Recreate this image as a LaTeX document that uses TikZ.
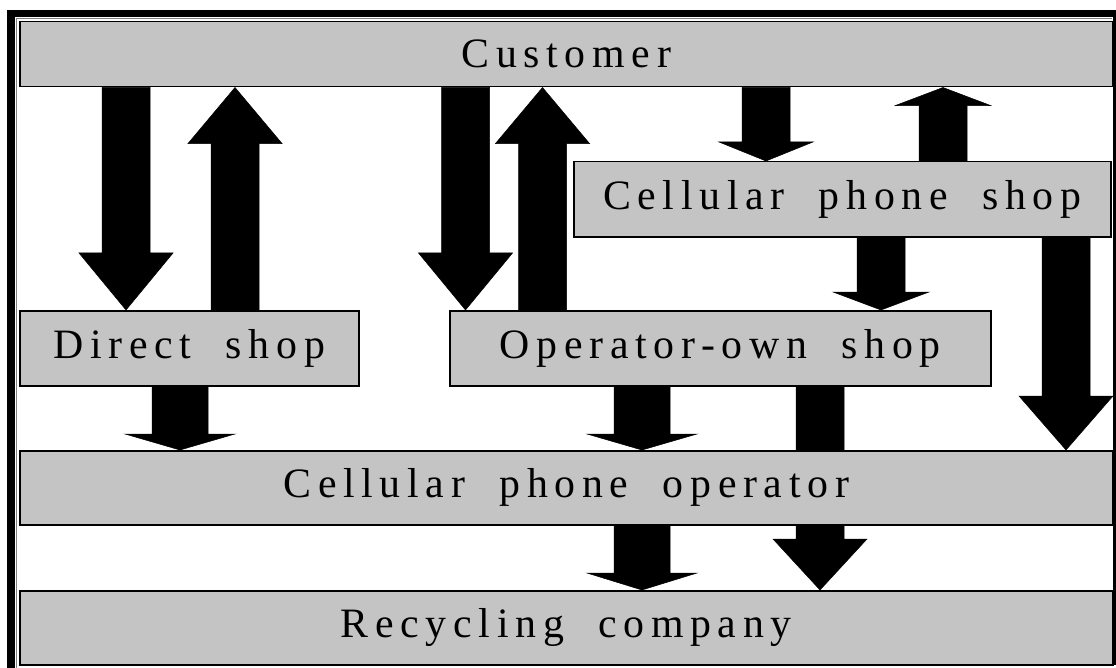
\documentclass[tikz,border=0pt]{standalone}
\usepackage{fontspec}
\setmainfont{Liberation Serif}[LetterSpace=16, WordSpace=2.0]
\usetikzlibrary{calc}

\pgfdeclarelayer{paper}
\pgfdeclarelayer{arrowlayer}
\pgfsetlayers{paper,arrowlayer,main}

\definecolor{boxgray}{RGB}{196,196,196}

\tikzset{
  box/.style={draw=black, line width=1.5bp, fill=boxgray, inner sep=0pt,
    anchor=north west, font=\fontsize{42}{44}\selectfont},
  blockfill/.style={fill=black, draw=black, line width=0.5bp},
}

% Block arrow: #1 x position, #2 start anchor, #3 tip anchor,
% #4 shaft half-width, #5 head half-width, #6 head length,
% #7 = 1 pointing down the page, -1 pointing up the page
\newcommand{\blockarrow}[7]{%
  \path[blockfill] let \p1=(#1,0 |- #2), \p2=(#1,0 |- #3) in
    ({\x1-#4bp},\y1) -- ({\x1+#4bp},\y1) -- ({\x1+#4bp},{\y2+#7*#6bp})
    -- ({\x1+#5bp},{\y2+#7*#6bp}) -- (\x1,\y2) -- ({\x1-#5bp},{\y2+#7*#6bp})
    -- ({\x1-#4bp},{\y2+#7*#6bp}) -- cycle;
}

\begin{document}
\begin{tikzpicture}[x=1bp, y=-1bp]
  \useasboundingbox (0,0) rectangle (1116,668);

  % paper and page frame
  \begin{pgfonlayer}{paper}
    \fill[white] (0,0) rectangle (1116,668);
    \fill[black] (7,10) rectangle (1116,17);
    \fill[black] (7,10) rectangle (15,668);
    \fill[black] (1113,17) rectangle (1116,665);
    \draw[gray, line width=0.8bp] (16.8,668) -- (16.8,18.6) -- (1112,18.6);
  \end{pgfonlayer}

  % participants
  \node[box, minimum width=1093bp, minimum height=65bp] (cust)  at (19,21)  {Customer};
  \node[box, minimum width=537bp,  minimum height=75bp] (cshop) at (573,161) {Cellular phone shop};
  \node[box, minimum width=339bp,  minimum height=75bp] (direct) at (19,310) {Direct shop};
  \node[box, minimum width=541bp,  minimum height=75bp] (opown) at (449,310) {Operator-own shop};
  \node[box, minimum width=1093bp, minimum height=74bp] (oper)  at (19,450)  {Cellular phone operator\hspace{8bp}};
  \node[box, minimum width=1093bp, minimum height=74bp] (recyc) at (19,590)  {Recycling company\hspace{32bp}};

  % flows, drawn beneath the boxes
  \begin{pgfonlayer}{arrowlayer}
    \blockarrow{126}{cust.south}{direct.north}{24}{47}{57}{1}
    \blockarrow{235}{direct.north}{cust.south}{24}{47}{56}{-1}
    \blockarrow{465.5}{cust.south}{opown.north}{24}{47}{57}{1}
    \blockarrow{542.5}{opown.north}{cust.south}{24}{47}{56}{-1}
    \blockarrow{766}{cust.south}{cshop.north}{24}{47}{19}{1}
    \blockarrow{943}{cshop.north}{cust.south}{24}{47.5}{18}{-1}
    \blockarrow{881}{cshop.south}{opown.north}{24}{48}{18}{1}
    \blockarrow{1066}{cshop.south}{oper.north}{24}{47}{54}{1}
    \blockarrow{180}{direct.south}{oper.north}{28}{55}{16}{1}
    \blockarrow{642}{opown.south}{oper.north}{28}{55}{16}{1}
    \blockarrow{642}{oper.south}{recyc.north}{28}{55}{17}{1}
    \blockarrow{820}{opown.south}{recyc.north}{24}{47}{51}{1}
  \end{pgfonlayer}
\end{tikzpicture}
\end{document}
